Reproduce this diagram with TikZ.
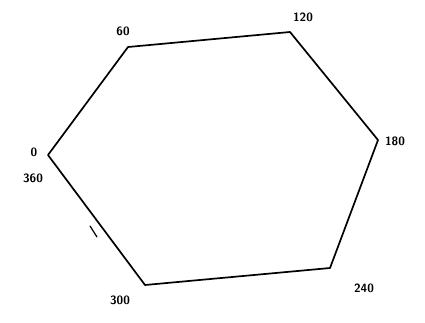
\documentclass[tikz,border=0pt]{standalone}
\begin{document}
\begin{tikzpicture}[x=1pt,y=-1pt,
  edge/.style={line width=1.7pt,line cap=round,line join=round},
  lbl/.style={font=\sffamily\bfseries\large,inner sep=1pt}]
\useasboundingbox (0,0) rectangle (425,322);
\coordinate (v0) at (48,155);
\coordinate (v60) at (128,47);
\coordinate (v120) at (290,32);
\coordinate (v180) at (378,140);
\coordinate (v240) at (330,268);
\coordinate (v300) at (145,285);
\draw[edge] (v0) -- (v60) -- (v120) -- (v180) -- (v240) -- (v300) -- cycle;
\coordinate (t1) at (90,226);
\coordinate (t2) at (97,237);
\draw[line width=1.2pt,line cap=round] (t1) -- (t2);
\node[lbl] (l60) at (123,31) {60};
\node[lbl] (l120) at (303,17) {120};
\node[lbl] (l180) at (395,141) {180};
\node[lbl] (l0) at (34,152) {0};
\node[lbl] (l360) at (33,178) {360};
\node[lbl] (l300) at (120,300) {300};
\node[lbl] (l240) at (364,288) {240};
\end{tikzpicture}
\end{document}
